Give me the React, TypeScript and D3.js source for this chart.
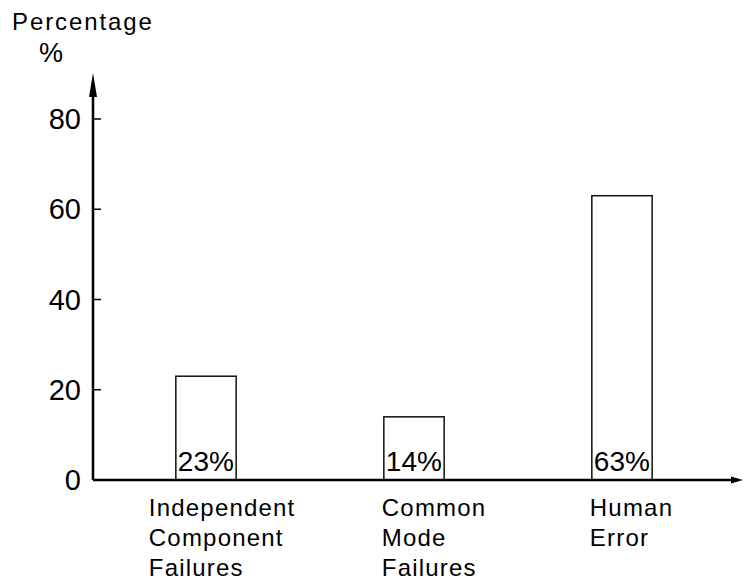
import React from 'react'
import * as d3 from 'd3'

const categories = ['Independent Component Failures', 'Common Mode Failures', 'Human Error']
const labelLines = [['Independent', 'Component', 'Failures'], ['Common', 'Mode', 'Failures'], ['Human', 'Error']]
const values = [23, 14, 63]
const valueLabels = ['23%', '14%', '63%']
const yTicks = [0, 20, 40, 60, 80]

const width = 745
const height = 585
const font = '"Liberation Sans", Arial, sans-serif'

export default function App() {
  const x = d3.scaleBand<string>()
    .domain(categories)
    .range([102, 726])
    .paddingInner(0.71)
    .paddingOuter(0.355)

  const y = d3.scaleLinear().domain([0, 80]).range([480, 119])

  const axisX = 93
  const labelDx = [-27, -2, -2]

  return (
    <svg width={width} height={height} style={{ position: 'absolute', left: 0, top: 0, background: '#fff' }}>
      {/* axis titles */}
      <text x={12} y={30} fontFamily={font} fontSize={24} letterSpacing={1.9}>Percentage</text>
      <text x={39} y={62} fontFamily={font} fontSize={27}>%</text>

      {/* bars */}
      {categories.map((c, i) => (
        <g key={c}>
          <rect
            x={x(c)!}
            y={y(values[i])}
            width={x.bandwidth()}
            height={y(0) - y(values[i])}
            fill="#fff"
            stroke="#111"
            strokeWidth={1.5}
          />
          <text x={x(c)! + 2} y={471} fontFamily={font} fontSize={28}>{valueLabels[i]}</text>
          {labelLines[i].map((line, j) => (
            <text key={j} x={x(c)! + labelDx[i]} y={516 + j * 30} fontFamily={font} fontSize={24} letterSpacing={1.2}>
              {line}
            </text>
          ))}
        </g>
      ))}

      {/* y axis */}
      <line x1={axisX} x2={axisX} y1={y(0)} y2={90} stroke="#000" strokeWidth={2.5} />
      <path d={`M${axisX},73 L${axisX - 4},97 L${axisX + 4},97 Z`} fill="#000" />
      {yTicks.map(t => (
        <g key={t}>
          {t > 0 && <line x1={axisX} x2={axisX + 8} y1={y(t)} y2={y(t)} stroke="#000" strokeWidth={1.5} />}
          <text x={81} y={y(t) + 10} textAnchor="end" fontFamily={font} fontSize={29}>{t}</text>
        </g>
      ))}

      {/* x axis */}
      <line x1={axisX} x2={735} y1={y(0)} y2={y(0)} stroke="#000" strokeWidth={2.5} />
      <path d={`M743,${y(0)} L731,${y(0) - 3.5} L731,${y(0) + 3.5} Z`} fill="#000" />
    </svg>
  )
}
